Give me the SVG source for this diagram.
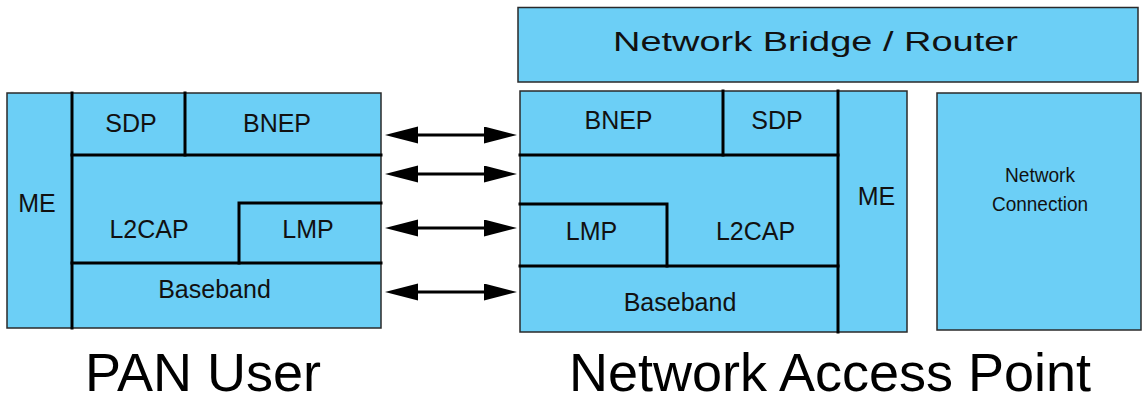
<svg xmlns="http://www.w3.org/2000/svg" width="1145" height="401" viewBox="0 0 1145 401">
  <style>
    .box { fill: #6ccff6; stroke: #2a2a2a; stroke-width: 1.5; }
    .div { stroke: #000; stroke-width: 3; fill: none; stroke-linecap: square; }
    .lbl { font-family: "Liberation Sans", Arial, sans-serif; font-size: 25px; fill: #111; text-anchor: middle; }
    .small { font-family: "Liberation Sans", Arial, sans-serif; font-size: 21px; fill: #111; text-anchor: middle; }
    .title { font-family: "Liberation Sans", Arial, sans-serif; font-size: 54px; fill: #000; text-anchor: middle; }
    .link { stroke: #000; stroke-width: 3; fill: none; }
  </style>
  <defs>
    <marker id="head" markerUnits="userSpaceOnUse" markerWidth="34" markerHeight="18" refX="23" refY="8.5" orient="auto-start-reverse">
      <path d="M0,0 L33,8.5 L0,17 Z" fill="#000"/>
    </marker>
  </defs>

  <!-- Top: bridge / router above the access point -->
  <g id="network-bridge-router">
    <rect class="box" x="518" y="7.5" width="620" height="74.5"/>
    <text class="lbl" x="613" y="51" style="text-anchor:start;font-size:27px" textLength="405" lengthAdjust="spacingAndGlyphs">Network Bridge / Router</text>
  </g>

  <!-- PAN user protocol stack -->
  <g id="pan-user">
    <rect class="box" x="7" y="93" width="374" height="235"/>
    <g id="pan-me">
      <path class="div" d="M72,93 V328"/>
      <text class="lbl" x="37" y="212">ME</text>
    </g>
    <g id="pan-sdp">
      <path class="div" d="M185,93 V155"/>
      <text class="lbl" x="131" y="132">SDP</text>
    </g>
    <g id="pan-bnep">
      <text class="lbl" x="277" y="132">BNEP</text>
    </g>
    <g id="pan-l2cap">
      <path class="div" d="M72,155 H381"/>
      <text class="lbl" x="149" y="238">L2CAP</text>
    </g>
    <g id="pan-lmp">
      <path class="div" d="M239,263 V203 H381"/>
      <text class="lbl" x="308" y="238">LMP</text>
    </g>
    <g id="pan-baseband">
      <path class="div" d="M72,263 H381"/>
      <text class="lbl" x="214.5" y="298">Baseband</text>
    </g>
  </g>

  <!-- Network access point protocol stack -->
  <g id="access-point">
    <rect class="box" x="520" y="91" width="387" height="241"/>
    <g id="nap-me">
      <path class="div" d="M838,91 V332"/>
      <text class="lbl" x="876.5" y="205">ME</text>
    </g>
    <g id="nap-bnep">
      <path class="div" d="M723,91 V155"/>
      <text class="lbl" x="618.5" y="129">BNEP</text>
    </g>
    <g id="nap-sdp">
      <text class="lbl" x="777" y="129">SDP</text>
    </g>
    <g id="nap-lmp">
      <path class="div" d="M520,204 H667 V266"/>
      <text class="lbl" x="591.5" y="240">LMP</text>
    </g>
    <g id="nap-l2cap">
      <path class="div" d="M520,155 H838"/>
      <text class="lbl" x="755.5" y="240">L2CAP</text>
    </g>
    <g id="nap-baseband">
      <path class="div" d="M520,266 H838"/>
      <text class="lbl" x="680" y="311">Baseband</text>
    </g>
  </g>

  <!-- External network side -->
  <g id="network-connection">
    <rect class="box" x="937" y="93" width="204" height="237"/>
    <text class="small" x="1040" y="182" textLength="70" lengthAdjust="spacingAndGlyphs">Network</text>
    <text class="small" x="1040" y="211" textLength="96" lengthAdjust="spacingAndGlyphs">Connection</text>
  </g>

  <!-- Peer-to-peer layer links -->
  <g id="connectors">
    <line class="link" x1="395" y1="135" x2="507" y2="135" marker-start="url(#head)" marker-end="url(#head)"/>
    <line class="link" x1="395" y1="174" x2="507" y2="174" marker-start="url(#head)" marker-end="url(#head)"/>
    <line class="link" x1="395" y1="228" x2="507" y2="228" marker-start="url(#head)" marker-end="url(#head)"/>
    <line class="link" x1="395" y1="292" x2="507" y2="292" marker-start="url(#head)" marker-end="url(#head)"/>
  </g>

  <!-- Captions -->
  <text class="title" x="203" y="391">PAN User</text>
  <text class="title" x="830" y="391">Network Access Point</text>
</svg>
